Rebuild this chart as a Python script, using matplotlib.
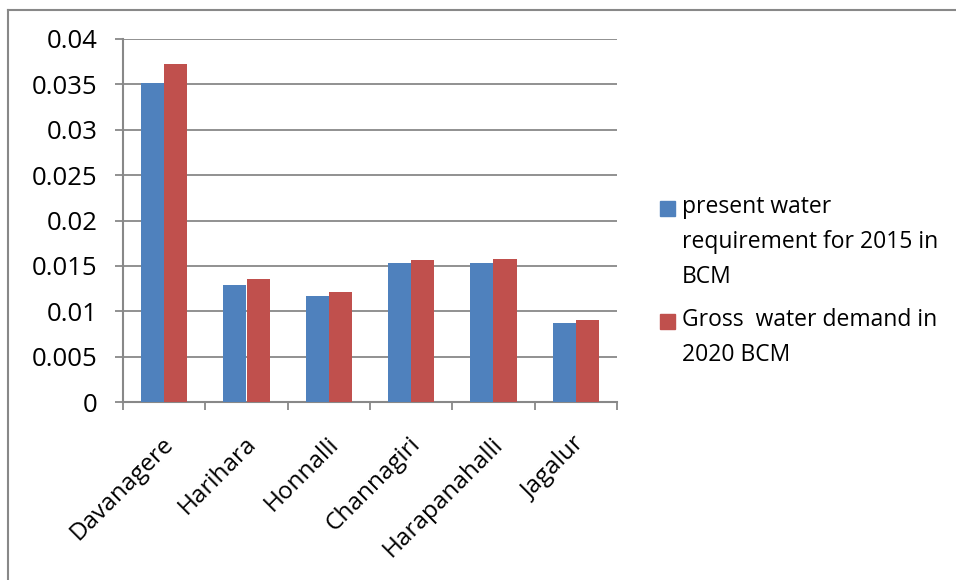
import numpy as np
import matplotlib
matplotlib.use('Agg')
import matplotlib.pyplot as plt
import matplotlib.transforms as mtransforms
from matplotlib.patches import Rectangle
from matplotlib.lines import Line2D

districts = ['Davanagere', 'Harihara', 'Honnalli', 'Channagiri', 'Harapanahalli', 'Jagalur']
present_2015 = [0.0352, 0.0129, 0.0117, 0.0153, 0.0153, 0.0087]
gross_2020 = [0.0372, 0.0135, 0.0121, 0.0157, 0.0158, 0.0090]
series_labels = ['present water\nrequirement for 2015 in\nBCM',
                 'Gross  water demand in\n2020 BCM']
yticks = [0, 0.005, 0.01, 0.015, 0.02, 0.025, 0.03, 0.035, 0.04]
ytick_labels = ['0', '0.005', '0.01', '0.015', '0.02', '0.025', '0.03', '0.035', '0.04']

blue = '#4F81BD'
red = '#C0504D'
gray = '#888888'

plt.rcParams['font.family'] = ['Open Sans', 'DejaVu Sans']

W, H = 956, 580
fig = plt.figure(figsize=(W / 100, H / 100), dpi=100)
ax = fig.add_axes([123 / W, 1 - 402 / H, (617 - 123) / W, (402 - 39) / H])

x = np.arange(len(districts))
w = 0.283
ax.bar(x - w / 2, present_2015, w, color=blue, zorder=3)
ax.bar(x + w / 2, gross_2020, w, color=red, zorder=3)

ax.set_xlim(-0.5, len(districts) - 0.5)
ax.set_ylim(0, 0.04)
ax.set_yticks(yticks)
ax.set_yticklabels(ytick_labels, fontsize=18.5)
ax.yaxis.grid(True, color=gray, linewidth=1.3, zorder=0)
ax.set_axisbelow(True)

# boundary ticks without labels, category labels on minor ticks
ax.set_xticks(np.arange(len(districts) + 1) - 0.5)
ax.set_xticklabels([])
ax.set_xticks(x, minor=True)
ax.set_xticklabels(districts, minor=True, fontsize=17.5, rotation=45,
                   ha='right', va='center', rotation_mode='anchor')
ax.tick_params(axis='x', which='major', length=6, width=1.3, color=gray, direction='out')
ax.tick_params(axis='x', which='minor', length=0, pad=28)
ax.tick_params(axis='y', length=6, width=1.3, color=gray, pad=12.5)
offset = mtransforms.ScaledTranslation(6 / 100, 0, fig.dpi_scale_trans)
for lbl in ax.get_xticklabels(minor=True):
    lbl.set_transform(lbl.get_transform() + offset)

for s in ['top', 'right']:
    ax.spines[s].set_visible(False)
for s in ['left', 'bottom']:
    ax.spines[s].set_color(gray)
    ax.spines[s].set_linewidth(1.5)

# legend drawn by hand so the swatch sits on the first line
sw = 15
for color, label, ytop in zip([blue, red], series_labels, [201, 314]):
    fig.patches.append(Rectangle((660 / W, 1 - (ytop + sw) / H), sw / W, sw / H,
                                 color=color, transform=fig.transFigure))
    fig.text(682 / W, 1 - (ytop - 6) / H, label, fontsize=16.5, va='top', ha='left',
             linespacing=1.62)

# chart frame
fig.add_artist(Line2D([8 / W, 8 / W], [0, 1 - 10 / H], color=gray, linewidth=1.5))
fig.add_artist(Line2D([8 / W, 1], [1 - 10 / H, 1 - 10 / H], color=gray, linewidth=1.5))

fig.savefig('out.png', dpi=100)
